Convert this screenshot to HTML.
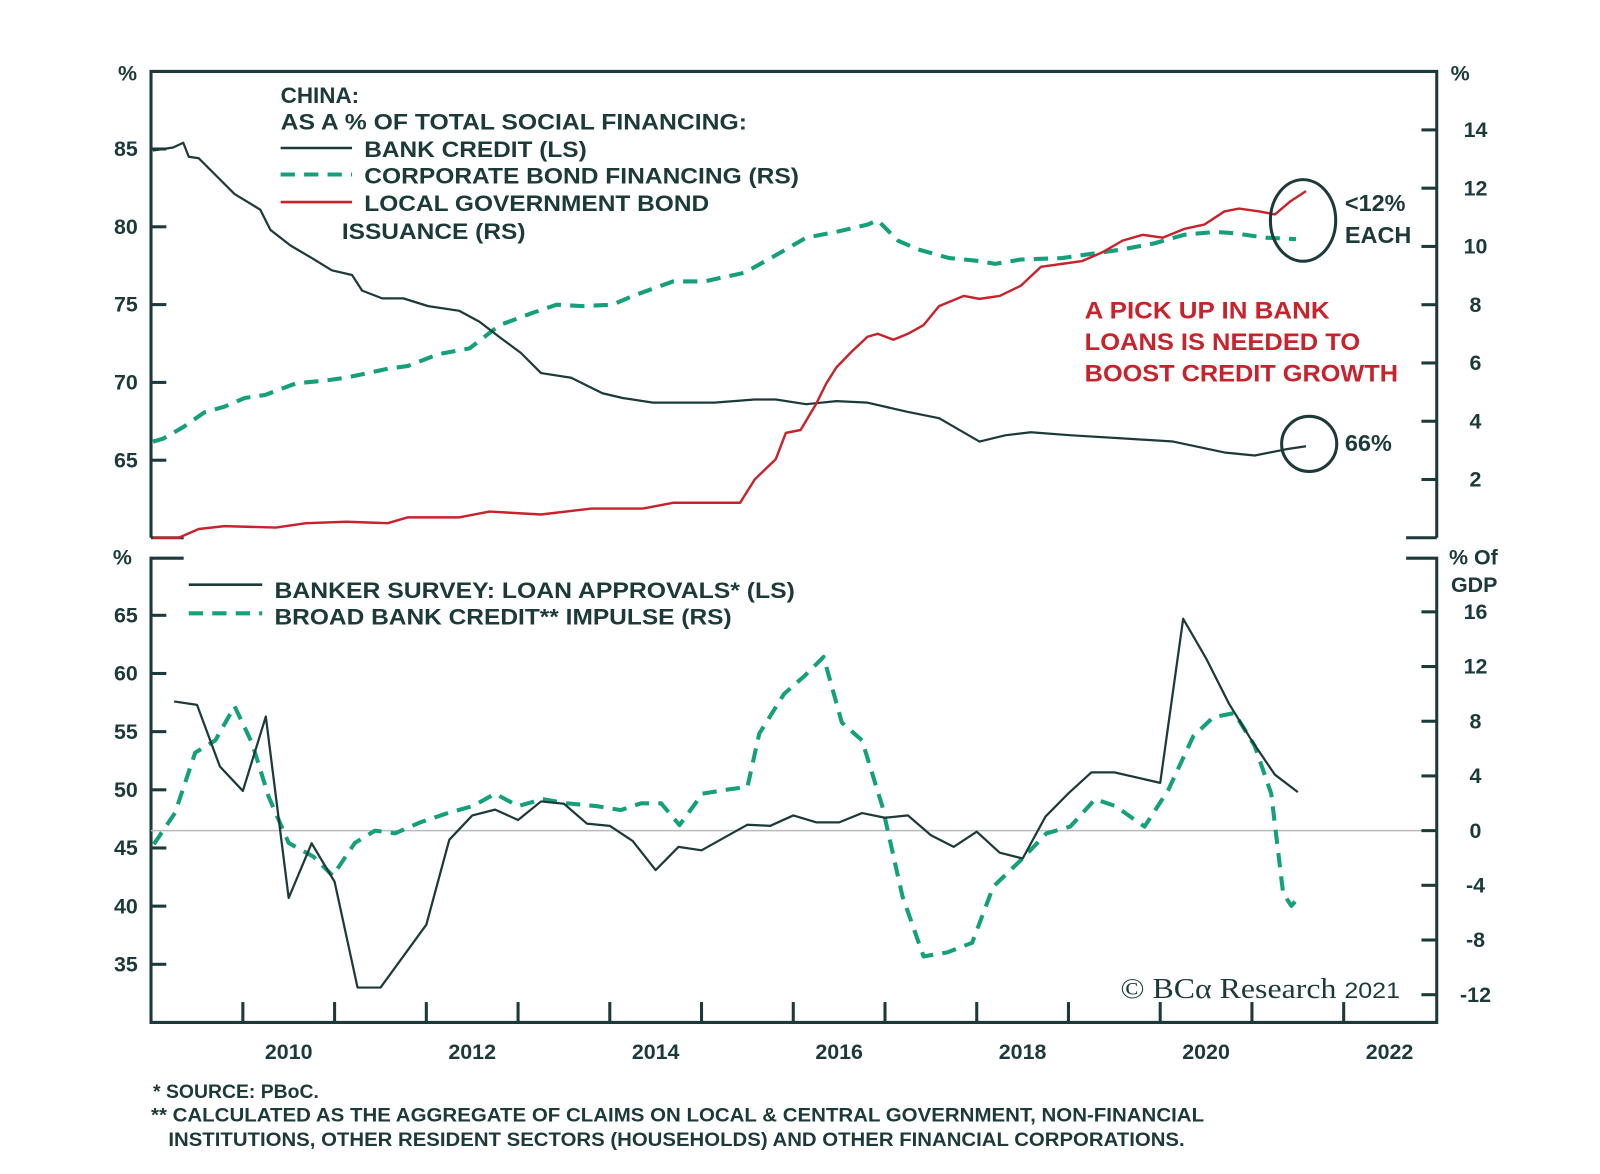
<!DOCTYPE html>
<html><head><meta charset="utf-8"><style>
html,body{margin:0;padding:0;background:#fff;}
svg{display:block;font-family:"Liberation Sans",sans-serif;}
.t{font-weight:bold;fill:#1d3a3a;}
</style></head><body>
<svg id="chart" width="1600" height="1174" viewBox="0 0 1568 1150.5" xmlns="http://www.w3.org/2000/svg">
<g id="frame" stroke="#1d3a3a" stroke-width="3" fill="none">
  <path d="M148,527 V70 H1408 V527"/>
  <path d="M148,527 H180 M1378,527 H1408"/>
  <path d="M180,547 H148 V1002 H1408 V547 H1378"/>
</g>
<line x1="148" x2="1408" y1="814" y2="814" stroke="#b8bcbc" stroke-width="1.5"/>
<g id="axes"></g>
<g id="series"></g>
<g>
  <text class="t" x="275" y="101" font-size="22">CHINA:</text>
  <text class="t" x="275" y="127" font-size="22" textLength="457" lengthAdjust="spacingAndGlyphs">AS A % OF TOTAL SOCIAL FINANCING:</text>
  <line x1="275" x2="345" y1="145" y2="145" stroke="#1d3a3a" stroke-width="2.5"/>
  <text class="t" x="357" y="154" font-size="22" textLength="218" lengthAdjust="spacingAndGlyphs">BANK CREDIT (LS)</text>
  <line x1="275" x2="345" y1="171" y2="171" stroke="#14a07a" stroke-width="4" stroke-dasharray="14,9"/>
  <text class="t" x="357" y="180" font-size="22" textLength="426" lengthAdjust="spacingAndGlyphs">CORPORATE BOND FINANCING (RS)</text>
  <line x1="275" x2="345" y1="198" y2="198" stroke="#c8232c" stroke-width="2.5"/>
  <text class="t" x="357" y="207" font-size="22" textLength="338" lengthAdjust="spacingAndGlyphs">LOCAL GOVERNMENT BOND</text>
  <text class="t" x="335" y="234" font-size="22" textLength="180" lengthAdjust="spacingAndGlyphs">ISSUANCE (RS)</text>
</g>
<g>
  <text x="1063" y="312" font-size="24" font-weight="bold" fill="#c8232c" textLength="240" lengthAdjust="spacingAndGlyphs">A PICK UP IN BANK</text>
  <text x="1063" y="343" font-size="24" font-weight="bold" fill="#c8232c" textLength="270" lengthAdjust="spacingAndGlyphs">LOANS IS NEEDED TO</text>
  <text x="1063" y="374" font-size="24" font-weight="bold" fill="#c8232c" textLength="307" lengthAdjust="spacingAndGlyphs">BOOST CREDIT GROWTH</text>
  <ellipse cx="1277" cy="216" rx="32" ry="40" fill="none" stroke="#1d3a3a" stroke-width="3"/>
  <text class="t" x="1318" y="207" font-size="23">&lt;12%</text>
  <text class="t" x="1318" y="238" font-size="23">EACH</text>
  <circle cx="1283" cy="435" r="27" fill="none" stroke="#1d3a3a" stroke-width="3"/>
  <text class="t" x="1318" y="442" font-size="23">66%</text>
</g>
<g>
  <line x1="185" x2="257" y1="573" y2="573" stroke="#1d3a3a" stroke-width="2.5"/>
  <text class="t" x="269" y="586" font-size="22" textLength="510" lengthAdjust="spacingAndGlyphs">BANKER SURVEY: LOAN APPROVALS* (LS)</text>
  <line x1="185" x2="257" y1="601" y2="601" stroke="#14a07a" stroke-width="4" stroke-dasharray="14,9"/>
  <text class="t" x="269" y="612" font-size="22" textLength="448" lengthAdjust="spacingAndGlyphs">BROAD BANK CREDIT** IMPULSE (RS)</text>
</g>
<text x="1098" y="978" font-size="28" font-family="Liberation Serif,serif" fill="#1d3a3a" textLength="274" lengthAdjust="spacingAndGlyphs">© BCα Research <tspan font-family="Liberation Sans,sans-serif" font-size="22">2021</tspan></text>
<g>
  <text class="t" x="150" y="1076" font-size="19">*  SOURCE: PBoC.</text>
  <text class="t" x="148" y="1099" font-size="19" textLength="1032" lengthAdjust="spacingAndGlyphs">** CALCULATED AS THE AGGREGATE OF CLAIMS ON LOCAL &amp; CENTRAL GOVERNMENT, NON-FINANCIAL</text>
  <text class="t" x="165" y="1123" font-size="19" textLength="996" lengthAdjust="spacingAndGlyphs">INSTITUTIONS, OTHER RESIDENT SECTORS (HOUSEHOLDS) AND OTHER FINANCIAL CORPORATIONS.</text>
</g>
</svg>
<script>
const bankYears=[2009.02,2009.24,2009.35,2009.41,2009.52,2009.69,2009.91,2010.19,2010.30,2010.52,2010.75,2010.97,2011.19,2011.30,2011.52,2011.75,2012.02,2012.36,2012.58,2012.80,2013.03,2013.25,2013.58,2013.92,2014.14,2014.47,2015.14,2015.58,2015.81,2016.14,2016.47,2016.81,2017.25,2017.59,2018.03,2018.31,2018.59,2019.03,2019.59,2020.14,2020.70,2021.03,2021.37,2021.59];
const bankCredit=[84.9,85.1,85.4,84.5,84.4,83.4,82.1,81.1,79.8,78.8,78.0,77.2,76.9,75.9,75.4,75.4,74.9,74.6,73.9,72.9,71.9,70.6,70.3,69.3,69.0,68.7,68.7,68.9,68.9,68.6,68.8,68.7,68.1,67.7,66.2,66.6,66.8,66.6,66.4,66.2,65.5,65.3,65.7,65.9];
const corpYears=[2009.02,2009.13,2009.35,2009.58,2009.80,2010.02,2010.24,2010.58,2010.91,2011.13,2011.58,2011.80,2012.13,2012.47,2012.80,2013.14,2013.42,2013.70,2014.03,2014.25,2014.69,2015.03,2015.47,2015.81,2016.14,2016.47,2016.81,2016.92,2017.14,2017.36,2017.70,2018.03,2018.20,2018.48,2018.93,2019.26,2019.59,2019.93,2020.26,2020.60,2020.82,2021.15,2021.48];
const corpBond=[3.3,3.4,3.8,4.3,4.5,4.8,4.9,5.3,5.4,5.5,5.8,5.9,6.3,6.5,7.3,7.7,8.0,7.95,8.0,8.3,8.8,8.8,9.1,9.7,10.3,10.5,10.75,10.9,10.2,9.9,9.6,9.5,9.4,9.55,9.6,9.75,9.9,10.1,10.4,10.5,10.45,10.3,10.25];
const lgYears=[2009.02,2009.30,2009.52,2009.80,2010.36,2010.69,2011.13,2011.58,2011.80,2012.36,2012.69,2013.25,2013.80,2014.36,2014.69,2015.14,2015.42,2015.58,2015.81,2015.92,2016.08,2016.25,2016.36,2016.47,2016.64,2016.81,2016.92,2017.09,2017.25,2017.42,2017.59,2017.86,2018.03,2018.25,2018.48,2018.70,2018.93,2019.15,2019.37,2019.59,2019.81,2020.03,2020.26,2020.48,2020.70,2020.86,2021.08,2021.25,2021.42,2021.59];
const localGov=[0,0,0.3,0.4,0.35,0.5,0.55,0.5,0.7,0.7,0.9,0.8,1.0,1.0,1.2,1.2,1.2,2.0,2.7,3.6,3.7,4.6,5.3,5.85,6.4,6.9,7.0,6.8,7.0,7.3,7.95,8.3,8.2,8.3,8.65,9.3,9.4,9.5,9.8,10.2,10.4,10.3,10.6,10.75,11.2,11.3,11.2,11.1,11.55,11.9];
const loanYears=[2009.25,2009.5,2009.75,2010,2010.25,2010.5,2010.75,2011,2011.25,2011.5,2012,2012.25,2012.5,2012.75,2013,2013.25,2013.5,2013.75,2014,2014.25,2014.5,2014.75,2015,2015.5,2015.75,2016,2016.25,2016.5,2016.75,2017,2017.25,2017.5,2017.75,2018,2018.25,2018.5,2018.75,2019,2019.25,2019.5,2020,2020.25,2020.5,2020.75,2021,2021.25,2021.5];
const loanApprovals=[57.6,57.3,52.0,49.9,56.3,40.7,45.4,42.1,33.0,33.0,38.4,45.7,47.8,48.3,47.4,49.0,48.8,47.1,46.9,45.6,43.1,45.1,44.8,47.0,46.9,47.8,47.2,47.2,48.0,47.6,47.8,46.1,45.1,46.4,44.6,44.1,47.7,49.7,51.5,51.5,50.6,64.7,61.3,57.4,54.2,51.3,49.8];
const impYears=[2009.03,2009.26,2009.48,2009.70,2009.91,2010.10,2010.28,2010.50,2010.77,2010.98,2011.22,2011.44,2011.66,2011.93,2012.24,2012.51,2012.75,2013.00,2013.27,2013.53,2013.85,2014.12,2014.34,2014.56,2014.76,2015.01,2015.28,2015.50,2015.63,2015.90,2016.12,2016.33,2016.53,2016.75,2016.97,2017.19,2017.42,2017.68,2017.95,2018.18,2018.49,2018.76,2019.02,2019.29,2019.51,2019.83,2020.09,2020.36,2020.58,2020.81,2021.03,2021.21,2021.34,2021.43,2021.52];
const creditImpulse=[-1.0,1.3,5.7,6.6,9.1,6.4,2.5,-0.9,-1.9,-3.3,-0.9,0,-0.2,0.6,1.3,1.8,2.7,1.8,2.3,2.0,1.8,1.5,2.0,2.0,0.4,2.7,3.0,3.2,7.1,10.0,11.3,12.7,7.9,6.6,1.8,-4.8,-9.2,-8.9,-8.2,-4.1,-2.1,-0.2,0.3,2.3,1.8,0.3,3.0,6.9,8.3,8.6,6.2,2.7,-4.6,-5.5,-4.8];
const topLeftTicks=[85,80,75,70,65];
const topRightTicks=[14,12,10,8,6,4,2];
const botLeftTicks=[65,60,55,50,45,40,35];
const botRightTicks=[16,12,8,4,0,-4,-8,-12];
const yearLabels=[2010,2012,2014,2016,2018,2020,2022];

const NS='http://www.w3.org/2000/svg';
const xS=t=>238+(t-2010)*89.9;
const yTL=v=>146+(85-v)*15.25;
const yTR=v=>527-v*28.55;
const yBL=v=>603+(65-v)*11.4;
const yBR=v=>814-v*13.4;
const axes=document.getElementById('axes');
const series=document.getElementById('series');
function mk(tag,attrs,parent){const e=document.createElementNS(NS,tag);for(const k in attrs)e.setAttribute(k,attrs[k]);parent.appendChild(e);return e;}
function txt(x,y,s,anchor,size){const e=mk('text',{x:x,y:y,'text-anchor':anchor,'font-size':size,class:'t'},axes);e.textContent=s;return e;}

let e;
e=txt(125,79,'%','middle',21);


e=txt(1431,79,'%','middle',21);


e=txt(120,553,'%','middle',21);


e=txt(1420,553,'% Of','start',21);


e=txt(1422,580,'GDP','start',21);



topLeftTicks.forEach(v=>{const y=yTL(v);
 e=mk('line',{x1:148,x2:163,y1:y,y2:y,stroke:'#1d3a3a','stroke-width':3},axes);
 
 
 e=txt(135,y+7,String(v),'end',21);
 
 });
topRightTicks.forEach(v=>{const y=yTR(v);
 e=mk('line',{x1:1393,x2:1408,y1:y,y2:y,stroke:'#1d3a3a','stroke-width':3},axes);
 
 
 e=txt(1446,y+7,String(v),'middle',21);
 
 });
botLeftTicks.forEach(v=>{const y=yBL(v);
 e=mk('line',{x1:148,x2:163,y1:y,y2:y,stroke:'#1d3a3a','stroke-width':3},axes);
 
 
 e=txt(135,y+7,String(v),'end',21);
 
 });
botRightTicks.forEach(v=>{const y=yBR(v);
 e=mk('line',{x1:1393,x2:1408,y1:y,y2:y,stroke:'#1d3a3a','stroke-width':3},axes);
 
 
 e=txt(1446,y+7,String(v),'middle',21);
 
 });
for(let yr=2010;yr<=2022;yr++){const x=xS(yr);
 e=mk('line',{x1:x,x2:x,y1:982,y2:1002,stroke:'#1d3a3a','stroke-width':3},axes);
 
 }
yearLabels.forEach(yr=>{
 e=txt(xS(yr+0.5),1038,String(yr),'middle',21);
 
 });

function line(xs,vs,ys,color,w,dash){
 const d=xs.map((t,i)=>(i?'L':'M')+xS(t).toFixed(1)+','+ys(vs[i]).toFixed(1)).join(' ');
 const a={d:d,fill:'none',stroke:color,'stroke-width':w,'stroke-linejoin':'round'};
 if(dash)a['stroke-dasharray']=dash;
 return mk('path',a,series);}
e=line(corpYears,corpBond,yTR,'#14a07a',4,'14,9');


e=line(bankYears,bankCredit,yTL,'#1d3a3a',2.2);


e=line(lgYears,localGov,yTR,'#c8232c',2.4);


e=line(impYears,creditImpulse,yBR,'#14a07a',4,'14,9');


e=line(loanYears,loanApprovals,yBL,'#1d3a3a',2.2);


</script>
</body></html>
